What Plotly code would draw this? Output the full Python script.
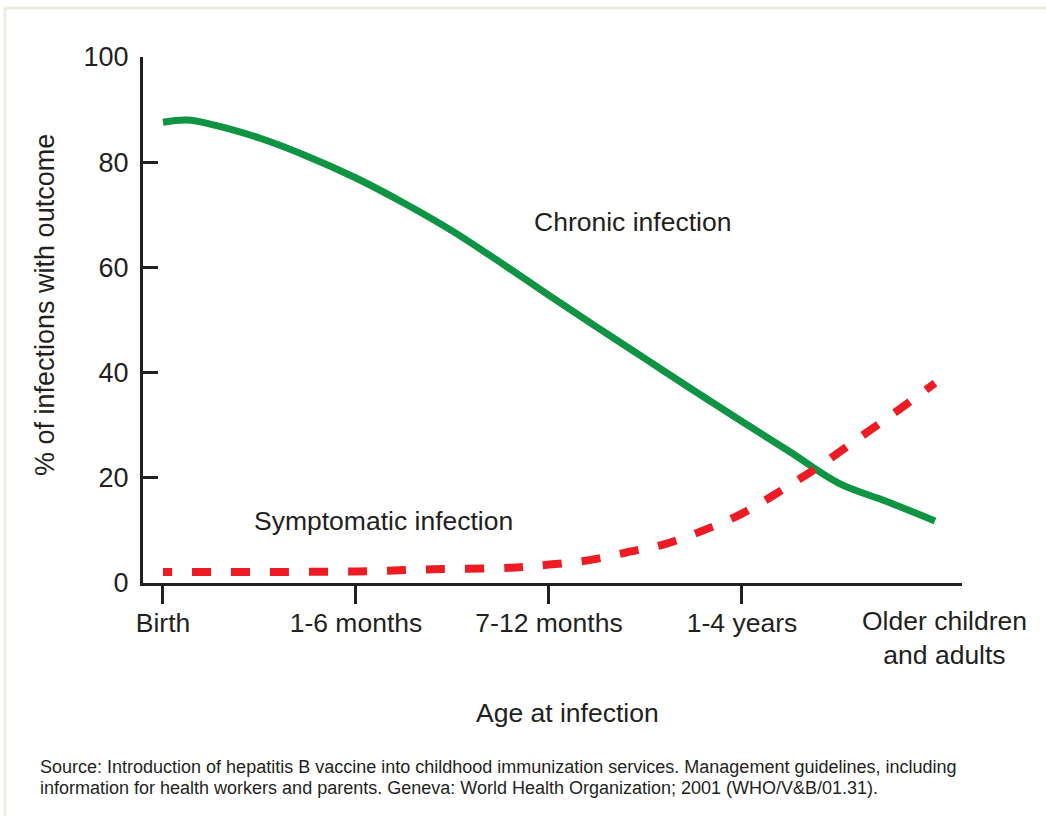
import plotly.graph_objects as go

# Category labels (x positions 0..4)
categories = ["Birth", "1-6 months", "7-12 months", "1-4 years", "Older children<br>and adults"]
tick_positions = [0, 1, 2, 3]

# Chronic infection curve
chronic_x = [0, 0.125, 0.25, 0.5, 0.75, 1.0, 1.25, 1.5, 1.75, 2.0, 2.25, 2.5, 2.75, 3.0, 3.25, 3.5, 3.75, 4.0]
chronic_y = [87.6, 88.0, 87.2, 84.6, 81.1, 77.0, 72.2, 66.9, 60.9, 54.7, 48.6, 42.6, 36.6, 30.7, 24.9, 19.0, 15.5, 11.8]

# Symptomatic infection curve
sympt_x = [0, 0.5, 1.0, 1.4, 1.8, 2.0, 2.2, 2.4, 2.6, 2.8, 3.0, 3.2, 3.4, 3.6, 3.8, 4.0]
sympt_y = [2.1, 2.1, 2.2, 2.6, 2.9, 3.5, 4.3, 5.8, 7.4, 10.0, 13.2, 17.5, 22.2, 27.4, 32.6, 38.0]

y_ticks = [0, 20, 40, 60, 80, 100]

source_lines = [
    "Source: Introduction of hepatitis B vaccine into childhood immunization services. "
    "Management guidelines, including",
    "information for health workers and parents. Geneva: World Health Organization; "
    "2001 (WHO/V&amp;B/01.31).",
]

FONT = "Liberation Sans, Arial, Helvetica, sans-serif"
INK = "#231f20"
GREEN = "#0f9444"
RED = "#ed1c24"

# dash pattern: short first dash, then regular 19px dashes / 20px gaps
red_dash = ",".join(["9px", "20px"] + ["19px", "20px"] * 30)

fig = go.Figure()
fig.add_trace(go.Scatter(
    x=chronic_x, y=chronic_y, mode="lines",
    line=dict(color=GREEN, width=7, shape="spline", smoothing=1.0),
    showlegend=False, hoverinfo="skip"))
fig.add_trace(go.Scatter(
    x=sympt_x, y=sympt_y, mode="lines",
    line=dict(color=RED, width=8, shape="spline", smoothing=1.0, dash=red_dash),
    showlegend=False, hoverinfo="skip"))

fig.update_layout(
    width=1046, height=816,
    margin=dict(l=143, r=84, t=57, b=233),
    paper_bgcolor="white", plot_bgcolor="white",
    font=dict(family=FONT, size=26, color=INK),
    xaxis=dict(
        range=[-0.1036, 4.140], showgrid=False, zeroline=False,
        showline=True, linecolor=INK, linewidth=3,
        tickmode="array", tickvals=tick_positions, ticktext=categories[:4],
        ticks="outside", ticklen=18, tickwidth=3, tickcolor=INK,
        ticklabelstandoff=-4,
        tickfont=dict(family=FONT, size=26.5, color=INK),
    ),
    yaxis=dict(
        range=[0, 100], showgrid=False, zeroline=False,
        showline=True, linecolor=INK, linewidth=3,
        tickmode="array", tickvals=y_ticks,
        ticks="inside", ticklen=15, tickwidth=3, tickcolor=INK,
        ticklabelstandoff=6,
        tickfont=dict(family=FONT, size=27, color=INK),
    ),
)

annotations = [
    dict(text=categories[4], x=4.05, y=0, xref="x", yref="y", yanchor="top",
         xanchor="center", yshift=-21, showarrow=False, font=dict(size=26.5), align="center"),
    dict(text="Chronic infection", x=2.432, y=68.6, xref="x", yref="y",
         xanchor="center", yanchor="middle", showarrow=False, font=dict(size=26.5)),
    dict(text="Symptomatic infection", x=1.141, y=11.7, xref="x", yref="y",
         xanchor="center", yanchor="middle", showarrow=False, font=dict(size=26.5)),
    dict(text="Age at infection", x=(567 - 143) / 819, y=(583 - 713) / 526,
         xref="paper", yref="paper", xanchor="center", yanchor="middle",
         showarrow=False, font=dict(size=26.5)),
    dict(text="% of infections with outcome", x=(45 - 143) / 819, y=(583 - 305) / 526,
         xref="paper", yref="paper", xanchor="center", yanchor="middle",
         showarrow=False, textangle=-90, font=dict(size=27)),
]
for i, line in enumerate(source_lines):
    annotations.append(dict(
        text=line, x=(38 - 143) / 819, y=(583 - (767 + 21 * i)) / 526,
        xref="paper", yref="paper", xanchor="left", yanchor="middle",
        align="left", showarrow=False, font=dict(size=18, color=INK)))
fig.update_layout(annotations=annotations)

# light frame (top and left edges)
fig.add_shape(type="line", xref="paper", yref="paper",
              x0=(4 - 143) / 819, x1=(1046 - 143) / 819,
              y0=(583 - 8) / 526, y1=(583 - 8) / 526,
              line=dict(color="#efece2", width=3))
fig.add_shape(type="line", xref="paper", yref="paper",
              x0=(5 - 143) / 819, x1=(5 - 143) / 819,
              y0=(583 - 8) / 526, y1=(583 - 816) / 526,
              line=dict(color="#efece2", width=3))

fig.write_html("out.html", config={"displayModeBar": False},
               post_script="document.body.style.margin='0';")
